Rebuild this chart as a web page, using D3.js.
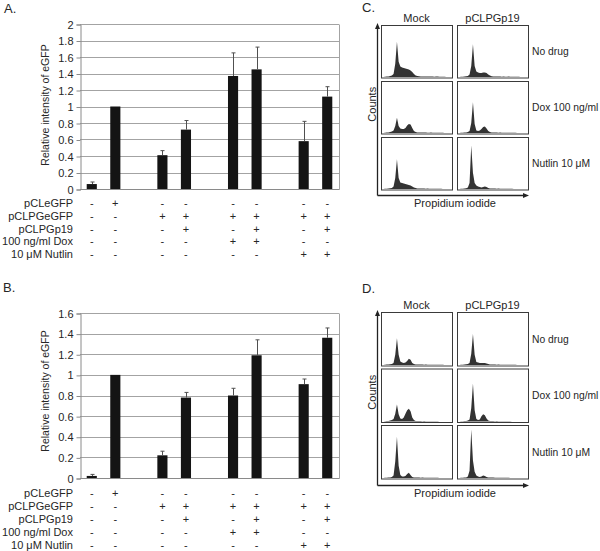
<!DOCTYPE html>
<html><head><meta charset="utf-8">
<script src="https://cdn.jsdelivr.net/npm/d3@7"></script>
<style>
body{margin:0;background:#fff}
svg{display:block}
text{font-family:"Liberation Sans",Arial,sans-serif;fill:#262626}
</style>
</head><body>
<svg id="fig" width="600" height="551"></svg>
<script>
// ---------------- DATA ----------------
const conditions = ["c1","c2","c3","c4","c5","c6","c7","c8"];
const rowLabels = ["pCLeGFP","pCLPGeGFP","pCLPGp19","100 ng/ml Dox","10 \u03bcM Nutlin"];
const signRows = [
  ["-","+","-","-","-","-","-","-"],
  ["-","-","+","+","+","+","+","+"],
  ["-","-","-","+","-","+","-","+"],
  ["-","-","-","-","+","+","-","-"],
  ["-","-","-","-","-","-","+","+"]
];
const valuesA = [0.06, 1.00, 0.41, 0.72, 1.37, 1.45, 0.58, 1.12];
const errorsA = [0.025, 0, 0.055, 0.11, 0.28, 0.27, 0.24, 0.12];
const ticksA = [0,0.2,0.4,0.6,0.8,1,1.2,1.4,1.6,1.8,2];
const tickLabelsA = ["0","0.2","0.4","0.6","0.8","1","1.2","1.4","1.6","1.8","2"];
const valuesB = [0.02, 1.00, 0.22, 0.78, 0.80, 1.19, 0.91, 1.36];
const errorsB = [0.015, 0, 0.04, 0.05, 0.07, 0.15, 0.05, 0.095];
const ticksB = [0,0.2,0.4,0.6,0.8,1,1.2,1.4,1.6];
const tickLabelsB = ["0","0.2","0.4","0.6","0.8","1","1.2","1.4","1.6"];
const yTitle = "Relative intensity of eGFP";

const flowColumns = ["Mock","pCLPGp19"];
const flowRows = ["No drug","Dox 100 ng/ml","Nutlin 10 \u03bcM"];
const flowXTitle = "Propidium iodide";
const flowYTitle = "Counts";
// relative counts per bin (40 bins across the PI axis)
const histC_mock_nodrug = [0,0.004,0.008,0.01,0.02,0.03,0.06,0.26,0.70,0.30,0.21,0.19,0.18,0.17,0.16,0.15,0.13,0.10,0.06,0.03,0.02,0.015,0.01,0.01,0.01,0.012,0.008,0.008,0.01,0.008,0.006,0.008,0.008,0.005,0.006,0.004,0.004,0,0,0];
const histC_p19_nodrug  = [0,0.004,0.005,0.01,0.015,0.02,0.05,0.22,0.65,0.22,0.11,0.09,0.08,0.08,0.09,0.09,0.08,0.05,0.03,0.015,0.01,0.01,0.008,0.01,0.008,0.006,0.008,0.006,0.006,0.008,0.005,0.006,0.004,0.004,0.003,0.003,0,0,0,0];
const histC_mock_dox    = [0,0.004,0.01,0.01,0.02,0.03,0.05,0.14,0.30,0.14,0.09,0.08,0.08,0.10,0.15,0.18,0.17,0.10,0.04,0.02,0.012,0.01,0.01,0.008,0.008,0.01,0.006,0.006,0.008,0.005,0.005,0.006,0.004,0.004,0.003,0.003,0,0,0,0];
const histC_p19_dox     = [0,0.004,0.005,0.01,0.01,0.02,0.04,0.20,0.61,0.18,0.05,0.04,0.05,0.08,0.12,0.13,0.09,0.04,0.02,0.01,0.01,0.008,0.008,0.006,0.008,0.006,0.005,0.006,0.004,0.005,0.004,0.004,0.003,0.003,0,0,0,0,0,0];
const histC_mock_nut    = [0,0.004,0.005,0.01,0.015,0.02,0.05,0.22,0.59,0.22,0.13,0.12,0.11,0.10,0.09,0.08,0.07,0.05,0.03,0.02,0.01,0.01,0.008,0.008,0.01,0.006,0.008,0.006,0.005,0.006,0.005,0.004,0.004,0.003,0.003,0,0,0,0,0];
const histC_p19_nut     = [0,0.004,0.005,0.01,0.015,0.03,0.12,0.86,0.32,0.12,0.07,0.05,0.04,0.03,0.04,0.05,0.04,0.02,0.01,0.01,0.008,0.008,0.006,0.008,0.006,0.005,0.006,0.004,0.005,0.004,0.003,0.003,0,0,0,0,0,0,0,0];
const histD_mock_nodrug = [0,0.004,0.01,0.01,0.015,0.02,0.04,0.20,0.52,0.20,0.07,0.05,0.04,0.05,0.08,0.12,0.10,0.04,0.02,0.01,0.01,0.008,0.01,0.008,0.006,0.008,0.006,0.006,0.005,0.006,0.005,0.004,0.004,0.003,0.003,0.003,0,0,0,0];
const histD_p19_nodrug  = [0,0.004,0.005,0.01,0.015,0.02,0.04,0.22,0.60,0.20,0.06,0.05,0.04,0.04,0.04,0.04,0.03,0.02,0.01,0.01,0.008,0.008,0.006,0.008,0.006,0.006,0.005,0.006,0.004,0.004,0.004,0.003,0.003,0.003,0,0,0,0,0,0];
const histD_mock_dox    = [0,0.004,0.01,0.01,0.02,0.03,0.05,0.15,0.33,0.14,0.06,0.05,0.08,0.15,0.22,0.25,0.20,0.08,0.03,0.01,0.01,0.008,0.008,0.006,0.008,0.006,0.005,0.006,0.004,0.004,0.004,0.003,0.003,0,0,0,0,0,0,0];
const histD_p19_dox     = [0,0.004,0.005,0.01,0.01,0.02,0.04,0.26,0.74,0.22,0.05,0.03,0.04,0.10,0.14,0.12,0.06,0.02,0.01,0.01,0.008,0.006,0.008,0.006,0.005,0.006,0.004,0.004,0.003,0.003,0.003,0,0,0,0,0,0,0,0,0];
const histD_mock_nut    = [0,0.004,0.005,0.01,0.01,0.02,0.05,0.32,0.80,0.24,0.06,0.03,0.03,0.04,0.08,0.10,0.06,0.02,0.01,0.01,0.008,0.008,0.006,0.008,0.006,0.005,0.006,0.004,0.004,0.004,0.003,0.003,0.003,0,0,0,0,0,0,0];
const histD_p19_nut     = [0,0.004,0.005,0.01,0.01,0.03,0.14,0.94,0.34,0.12,0.05,0.03,0.02,0.03,0.05,0.04,0.02,0.01,0.01,0.008,0.008,0.006,0.006,0.005,0.006,0.004,0.004,0.003,0.003,0.003,0,0,0,0,0,0,0,0,0,0];

// ---------------- DRAW ----------------
const svg = d3.select("#fig");
const FONT = 11;

function barPanel(o){
  const g = svg.append("g");
  const slots = conditions.map((c,i)=> i + Math.floor(i/2));
  const x = d3.scaleBand().domain(d3.range(11)).range([80,339]).paddingInner(0.57).paddingOuter(0.285);
  const y = d3.scaleLinear().domain([0, o.ticks[o.ticks.length-1]]).range([o.bottom, o.top]);
  g.append("g").selectAll("line").data(o.ticks.slice(1)).join("line")
    .attr("x1",80).attr("x2",339)
    .attr("y1",d=>Math.round(y(d))+0.5).attr("y2",d=>Math.round(y(d))+0.5)
    .attr("stroke","#a3a3a3").attr("stroke-width",1);
  g.append("line").attr("x1",339.5).attr("x2",339.5)
    .attr("y1",Math.round(y(o.ticks[o.ticks.length-1]))+0.5).attr("y2",Math.round(o.bottom)+0.5)
    .attr("stroke","#a3a3a3");
  g.append("line").attr("x1",80).attr("x2",339.5)
    .attr("y1",Math.round(o.bottom)+0.5).attr("y2",Math.round(o.bottom)+0.5)
    .attr("stroke","#8a8a8a");
  const ax = d3.axisLeft(y).tickValues(o.ticks).tickSize(4).tickPadding(3)
    .tickFormat((d,i)=>o.tickLabels[i]);
  const axg = g.append("g").attr("transform","translate(80.5,0.5)").call(ax);
  axg.select(".domain").attr("stroke","#8a8a8a");
  axg.selectAll(".tick line").attr("stroke","#8a8a8a");
  axg.selectAll(".tick text").attr("font-size",FONT).attr("font-family","Liberation Sans, Arial, sans-serif").attr("fill","#262626");
  g.append("g").selectAll("rect").data(o.values).join("rect")
    .attr("x",(d,i)=>x(slots[i])).attr("width",x.bandwidth())
    .attr("y",d=>y(d)).attr("height",d=>o.bottom - y(d))
    .attr("fill","#141414");
  const eg = g.append("g").attr("stroke","#505050").attr("stroke-width",1);
  o.values.forEach((v,i)=>{
    const e = o.errors[i]; if(!e) return;
    const cx = Math.round(x(slots[i]) + x.bandwidth()/2)+0.5;
    eg.append("line").attr("x1",cx).attr("x2",cx).attr("y1",y(v)).attr("y2",y(v+e));
    eg.append("line").attr("x1",cx-2).attr("x2",cx+2).attr("y1",y(v+e)).attr("y2",y(v+e));
  });
  g.append("text").attr("transform",`translate(49,${o.titleY}) rotate(-90)`)
    .attr("text-anchor","middle").attr("font-size",10.5).text(yTitle);
  g.append("text").attr("x",o.letterX).attr("y",o.letterY).attr("font-size",13).text(o.letter);
  rowLabels.forEach((lab,r)=>{
    const ry = o.rowY0 + r*o.rowStep;
    g.append("text").attr("x",73).attr("y",ry+4).attr("text-anchor","end").attr("font-size",FONT).text(lab);
    g.append("g").selectAll("text").data(signRows[r]).join("text")
      .attr("x",(d,i)=>x(slots[i])+x.bandwidth()/2).attr("y",ry+4)
      .attr("text-anchor","middle").attr("font-size",FONT).text(d=>d);
  });
}

barPanel({values:valuesA, errors:errorsA, ticks:ticksA, tickLabels:tickLabelsA,
  top:24, bottom:189, titleY:105, letter:"A.", letterX:4, letterY:12.5, rowY0:203, rowStep:12.8});
barPanel({values:valuesB, errors:errorsB, ticks:ticksB, tickLabels:tickLabelsB,
  top:313, bottom:478, titleY:391, letter:"B.", letterX:3, letterY:292, rowY0:493, rowStep:13});

function flowPanel(o){
  const g = svg.append("g");
  const colX = [381, 457], boxW = 71;
  const rowTops = flowRows.map((r,i)=> o.top + i*(o.rowH + o.gap));
  g.append("text").attr("x",362).attr("y",o.letterY).attr("font-size",13).text(o.letter);
  flowColumns.forEach((c,j)=>{
    g.append("text").attr("x",colX[j]+boxW/2).attr("y",o.top-3).attr("text-anchor","middle").attr("font-size",FONT).text(c);
  });
  flowRows.forEach((r,i)=>{
    g.append("text").attr("x",532).attr("y",rowTops[i]+o.rowH/2+4).attr("font-size",10.3).text(r);
  });
  o.hists.forEach((row,i)=>{
    row.forEach((h,j)=>{
      const x0 = colX[j], y0 = rowTops[i];
      const xs = d3.scaleLinear().domain([0,h.length]).range([x0+1.5, x0+boxW-1.5]);
      const ys = d3.scaleLinear().domain([0,1]).range([y0+o.rowH-0.5, y0+1.5]);
      g.append("rect").attr("x",x0+0.5).attr("y",y0+0.5).attr("width",boxW).attr("height",o.rowH)
        .attr("fill","#fff").attr("stroke","#3a3a3a").attr("stroke-width",1);
      const area = d3.area().x((d,k)=>xs(k+0.5)).y0(ys(0)).y1(d=>ys(d)).curve(d3.curveLinear);
      g.append("path").datum(h).attr("d",area).attr("fill","#333");
    });
  });
  const ax = 377.5, ay = o.axisY + 0.5, yTop = o.top - 2, xEnd = 529;
  g.append("line").attr("x1",ax).attr("x2",ax).attr("y1",ay).attr("y2",yTop+4).attr("stroke","#222").attr("stroke-width",1.3);
  g.append("line").attr("x1",ax).attr("x2",xEnd-4).attr("y1",ay).attr("y2",ay).attr("stroke","#222").attr("stroke-width",1.3);
  g.append("path").attr("d",`M${ax},${yTop} L${ax-2.5},${yTop+6} L${ax+2.5},${yTop+6} Z`).attr("fill","#222");
  g.append("path").attr("d",`M${xEnd},${ay} L${xEnd-6},${ay-2.5} L${xEnd-6},${ay+2.5} Z`).attr("fill","#222");
  g.append("text").attr("transform",`translate(376,${rowTops[1]+o.rowH/2-3}) rotate(-90)`).attr("text-anchor","middle").attr("font-size",FONT).text(flowYTitle);
  g.append("text").attr("x",455).attr("y",o.axisY+11.5).attr("text-anchor","middle").attr("font-size",FONT).text(flowXTitle);
}

flowPanel({letter:"C.", letterY:12, top:25, rowH:52.5, gap:3.5, axisY:195,
  hists:[[histC_mock_nodrug,histC_p19_nodrug],[histC_mock_dox,histC_p19_dox],[histC_mock_nut,histC_p19_nut]]});
flowPanel({letter:"D.", letterY:293, top:312, rowH:53.5, gap:3, axisY:485,
  hists:[[histD_mock_nodrug,histD_p19_nodrug],[histD_mock_dox,histD_p19_dox],[histD_mock_nut,histD_p19_nut]]});
</script>
</body></html>
